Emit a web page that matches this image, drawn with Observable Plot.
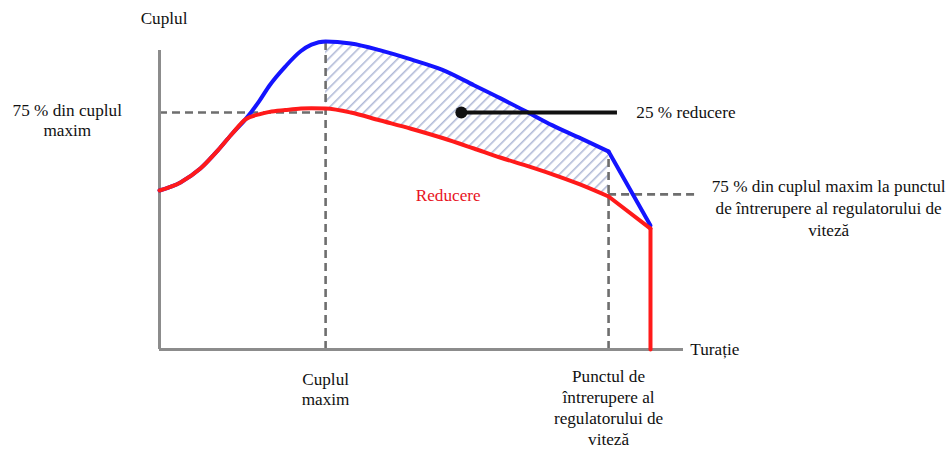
<!DOCTYPE html>
<html>
<head>
<meta charset="utf-8">
<script src="https://cdn.jsdelivr.net/npm/d3@7"></script>
<script src="https://cdn.jsdelivr.net/npm/@observablehq/plot@0.6"></script>
<style>
  html, body { margin: 0; padding: 0; background: #fff; }
  #chart svg { display: block; }
  #chart svg text, #chart svg tspan { font-family: 'Liberation Serif', 'DejaVu Serif', serif !important; }
</style>
</head>
<body>
<div id="chart"></div>
<script>
// ---- data (speed and torque in relative units) ----
const speed         = [0, 4, 7.8, 11.1, 13.9, 16.4, 19, 21, 24, 27, 29, 31.7, 36.5, 42, 48, 54, 60, 65, 70, 75, 80, 85.7, 93.7];
const torqueFull    = [53, 55.7, 60.3, 66.3, 72, 76.7, 82.7, 88, 94.3, 99.5, 101.6, 102.7, 102, 99.8, 96.7, 93.2, 88.1, 83.8, 79.3, 74.7, 70.7, 66, 41.3];
const torqueReduced = [53, 55.7, 60.3, 66.3, 72, 76.7, 78.4, 79.2, 79.8, 80.3, 80.4, 80.3, 79, 76.4, 73.6, 70.5, 67, 64, 61.3, 58.4, 55.2, 51, 40.3];
const cutoffTorque  = 0;          // reduced curve drops to zero at the last speed
const level75Max    = 79;         // 75 % of max torque
const level75Break  = 51.7;       // 75 % of max torque at governor break point
const pointerSpeed  = [57.6, 87.4];
const axisTop = 99.7, axisRight = 100;

const rows = speed.map((s, i) => ({speed: s, full: torqueFull[i], reduced: torqueReduced[i]}));
const iMax = d3.maxIndex(torqueFull);
const iBreak = speed.length - 2;
const sMax = speed[iMax], sBreak = speed[iBreak], sEnd = speed[speed.length - 1];
const smooth = rows.slice(0, iBreak + 1);
const tail = rows.slice(iBreak);
const hatch = rows.slice(iMax, iBreak + 1);
const drop = [{speed: sEnd, reduced: torqueReduced[torqueReduced.length - 1]}, {speed: sEnd, reduced: cutoffTorque}];

const font = "Liberation Serif, DejaVu Serif, serif";
const dash = {stroke: "#6e6e6e", strokeWidth: 2.6, strokeDasharray: "8,5"};
const txt = {fill: "#111", fontSize: 17.2, fontFamily: font};

const chart = Plot.plot({
  width: 949,
  height: 450,
  marginLeft: 159,
  marginRight: 266,
  marginTop: 19,
  marginBottom: 101,
  x: {domain: [0, 100], axis: null},
  y: {domain: [0, 110], axis: null},
  style: {background: "#fff", overflow: "visible"},
  marks: [
    Plot.areaY(hatch, {x: "speed", y1: "reduced", y2: "full", curve: "monotone-x", fill: "url(#hatch)"}),
    // dashed guide lines
    Plot.ruleY([level75Max], {x1: 0, x2: sMax, ...dash}),
    Plot.ruleX([sMax], {y1: 0, y2: torqueFull[iMax], ...dash}),
    Plot.ruleX([sBreak], {y1: 0, y2: torqueFull[iBreak], ...dash}),
    Plot.ruleY([level75Break], {x1: sBreak, x2: 102.7, ...dash}),
    // axes
    Plot.ruleX([0], {y1: 0, y2: axisTop, stroke: "#8c8c8c", strokeWidth: 3}),
    Plot.ruleY([0], {x1: 0, x2: axisRight, stroke: "#8c8c8c", strokeWidth: 3}),
    // full torque curve
    Plot.line(smooth, {x: "speed", y: "full", curve: "monotone-x", stroke: "#1414ff", strokeWidth: 4}),
    Plot.line(tail, {x: "speed", y: "full", stroke: "#1414ff", strokeWidth: 4}),
    // reduced torque curve
    Plot.line(smooth, {x: "speed", y: "reduced", curve: "monotone-x", stroke: "#ff1a1a", strokeWidth: 4}),
    Plot.line(tail, {x: "speed", y: "reduced", stroke: "#ff1a1a", strokeWidth: 4}),
    Plot.line(drop, {x: "speed", y: "reduced", stroke: "#ff1a1a", strokeWidth: 4}),
    // pointer
    Plot.ruleY([level75Max], {x1: pointerSpeed[0], x2: pointerSpeed[1], stroke: "#111", strokeWidth: 4}),
    Plot.dot([[pointerSpeed[0], level75Max]], {r: 6, fill: "#111"}),
    // labels
    Plot.text(["Cuplul"], {x: -3.6, y: 110.3, textAnchor: "start", ...txt}),
    Plot.text(["75 % din cuplul\nmaxim"], {x: -17.6, y: 82.7, lineAnchor: "top", lineHeight: 1.16, ...txt}),
    Plot.text(["25 % reducere"], {x: 91, y: 79, textAnchor: "start", ...txt}),
    Plot.text(["Reducere"], {x: 48.9, y: 51.3, textAnchor: "start", ...txt, fill: "#e8141e"}),
    Plot.text(["75 % din cuplul maxim la punctul\nde întrerupere al regulatorului de\nviteză"], {x: 127.7, y: 57.7, lineAnchor: "top", lineHeight: 1.27, ...txt}),
    Plot.text(["Turație"], {x: 101.3, y: 0, textAnchor: "start", ...txt}),
    Plot.text(["Cuplul\nmaxim"], {x: sMax, y: -7.4, lineAnchor: "top", lineHeight: 1.12, ...txt}),
    Plot.text(["Punctul de\nîntrerupere al\nregulatorului de\nviteză"], {x: sBreak, y: -6, lineAnchor: "top", lineHeight: 1.22, ...txt})
  ]
});

// serif font on every label
d3.select(chart).selectAll("text, tspan").style("font-family", "'Liberation Serif', 'DejaVu Serif', serif");

// hatch pattern for the reduction area
const defs = d3.select(chart).insert("defs", ":first-child");
const pat = defs.append("pattern")
  .attr("id", "hatch")
  .attr("patternUnits", "userSpaceOnUse")
  .attr("width", 7)
  .attr("height", 7)
  .attr("patternTransform", "rotate(45)");
pat.append("rect").attr("width", 7).attr("height", 7).attr("fill", "#ffffff");
pat.append("line").attr("x1", 0).attr("y1", 0).attr("x2", 0).attr("y2", 7)
  .attr("stroke", "#b2bbd8").attr("stroke-width", 3.2);

document.getElementById("chart").appendChild(chart);
</script>
</body>
</html>
